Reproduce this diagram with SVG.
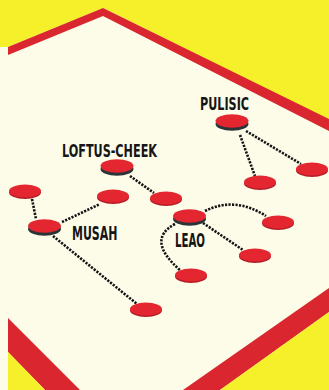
<svg xmlns="http://www.w3.org/2000/svg" width="329" height="390" viewBox="0 0 329 390">
  <style>
    .band { fill: #d9262f; }
    .yellow { fill: #f6f02a; }
    .link { fill: none; stroke: #141414; stroke-width: 2.6; stroke-dasharray: 2.2 1.3; }
    .top { fill: #e3262f; }
    .rim { fill: #2b3538; }
    .rim-s { fill: #b51d26; }
    .label { font-family: "Liberation Sans Narrow", "DejaVu Sans Condensed", "Liberation Sans", sans-serif; font-weight: bold; fill: #161616; }
  </style>
  <defs>
    <!-- small unlabelled marker: thin darker lip under the red top -->
    <g id="dot">
      <ellipse class="rim-s" cx="0" cy="1.5" rx="16" ry="6.5"/>
      <ellipse class="top" cx="0" cy="0" rx="16" ry="6.5"/>
    </g>
    <!-- labelled player puck: dark side below the red top -->
    <g id="puck">
      <ellipse class="rim" cx="0" cy="3" rx="16.5" ry="6.8"/>
      <ellipse class="top" cx="0" cy="0" rx="16.5" ry="6.8"/>
    </g>
  </defs>

  <!-- pitch in perspective -->
  <g id="pitch">
    <rect class="yellow" x="0" y="0" width="329" height="390"/>
    <polygon fill="#fdfce9" points="0,47 8,47 103,8 329,120 329,390 0,390"/>
    <polygon class="band" points="8,47 103,8 329,119 329,131 103,16 8,55"/>
    <polygon class="band" points="8,318 80,390 45,390 8,352"/>
    <polygon class="yellow" points="8,352 45,390 8,390"/>
    <polygon class="band" points="329,288 183,390 220,390 329,312"/>
    <polygon class="yellow" points="329,312 220,390 329,390"/>
  </g>

  <!-- dotted passing links -->
  <g id="connectors">
    <path class="link" d="M246,131 L301,164"/>
    <path class="link" d="M240,135 L255,176"/>
    <path class="link" d="M130,176 L154,193"/>
    <path class="link" d="M32,199 L36,219"/>
    <path class="link" d="M62,222 L100,204"/>
    <path class="link" d="M53,236 L137,304"/>
    <path class="link" d="M205,211 Q235,196 266,216"/>
    <path class="link" d="M203,223 L243,250"/>
    <path class="link" d="M175,224 Q145,240 181,271"/>
  </g>

  <g id="pulisic">
    <use href="#puck" x="232" y="121"/>
    <text class="label" x="200" y="110" font-size="18" textLength="49" lengthAdjust="spacingAndGlyphs">PULISIC</text>
  </g>
  <g id="pulisic-right"><use href="#dot" x="312" y="169"/></g>
  <g id="pulisic-low"><use href="#dot" x="260" y="182"/></g>

  <g id="loftus-cheek">
    <use href="#puck" x="117" y="166"/>
    <text class="label" x="62" y="157" font-size="18" textLength="95" lengthAdjust="spacingAndGlyphs">LOFTUS-CHEEK</text>
  </g>
  <g id="loftus-right"><use href="#dot" x="166" y="198"/></g>

  <g id="left-top"><use href="#dot" x="25" y="191"/></g>
  <g id="middle"><use href="#dot" x="113" y="196"/></g>

  <g id="musah">
    <use href="#puck" x="44.5" y="226"/>
    <text class="label" x="72" y="240" font-size="20" textLength="45.5" lengthAdjust="spacingAndGlyphs">MUSAH</text>
  </g>
  <g id="musah-low"><use href="#dot" x="146" y="309"/></g>

  <g id="leao">
    <use href="#puck" x="189.5" y="216"/>
    <text class="label" x="175" y="247" font-size="20" textLength="30" lengthAdjust="spacingAndGlyphs">LEAO</text>
  </g>
  <g id="leao-right"><use href="#dot" x="278" y="222"/></g>
  <g id="leao-mid"><use href="#dot" x="255" y="255"/></g>
  <g id="leao-low"><use href="#dot" x="191" y="275"/></g>
</svg>
